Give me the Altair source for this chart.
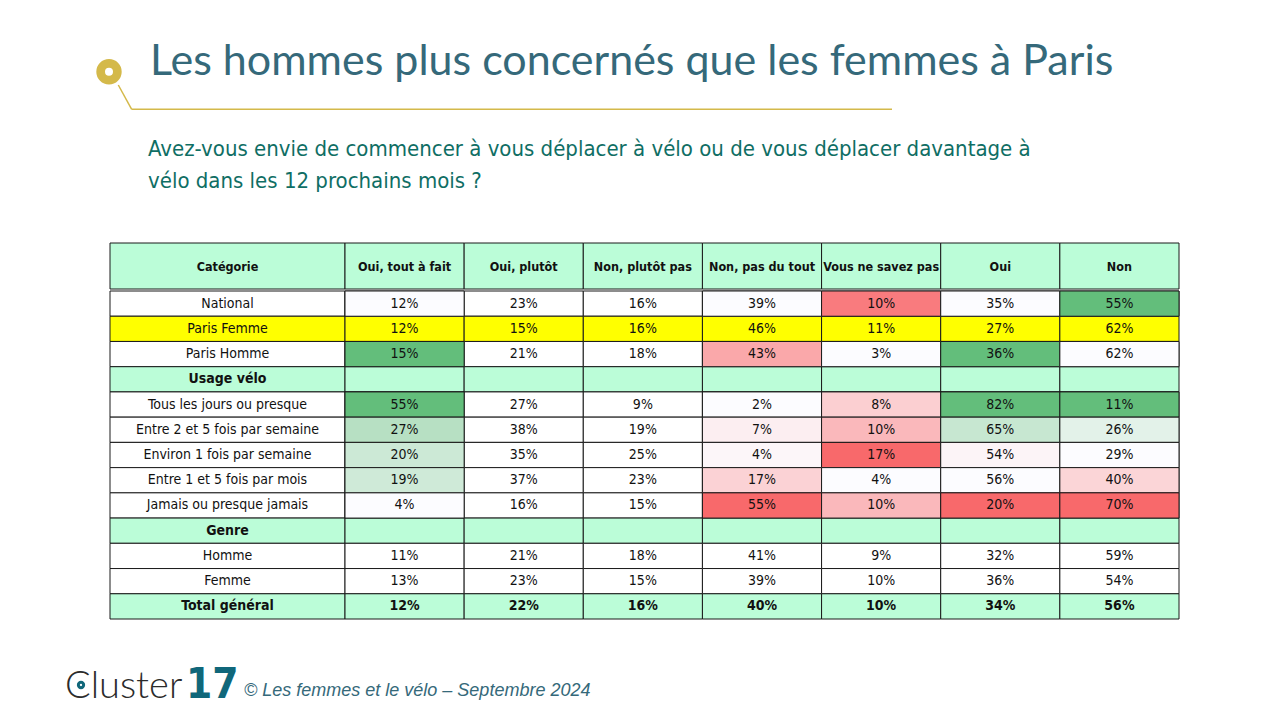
import numpy as np
import pandas as pd
import altair as alt

# ---------------- data ----------------
title_text = "Les hommes plus concernés que les femmes à Paris"
subtitle_lines = [
    "Avez-vous envie de commencer à vous déplacer à vélo ou de vous déplacer davantage à",
    "vélo dans les 12 prochains mois ?",
]
footer_text = "© Les femmes et le vélo – Septembre 2024"
logo_word = "Cluster"
logo_num = "17"

first_header = "Catégorie"
columns = ["Oui, tout à fait", "Oui, plutôt", "Non, plutôt pas", "Non, pas du tout",
           "Vous ne savez pas", "Oui", "Non"]

row_labels = ["National", "Paris Femme", "Paris Homme", "Usage vélo",
              "Tous les jours ou presque", "Entre 2 et 5 fois par semaine",
              "Environ 1 fois par semaine", "Entre 1 et 5 fois par mois",
              "Jamais ou presque jamais", "Genre", "Homme", "Femme", "Total général"]
row_kind = ["data", "highlight", "data", "section", "data", "data", "data", "data",
            "data", "section", "data", "data", "total"]

national = [12, 23, 16, 39, 10, 35, 55]
paris_femme = [12, 15, 16, 46, 11, 27, 62]
paris_homme = [15, 21, 18, 43, 3, 36, 62]
tous_les_jours = [55, 27, 9, 2, 8, 82, 11]
entre_2_5_semaine = [27, 38, 19, 7, 10, 65, 26]
environ_1_semaine = [20, 35, 25, 4, 17, 54, 29]
entre_1_5_mois = [19, 37, 23, 17, 4, 56, 40]
jamais = [4, 16, 15, 55, 10, 20, 70]
homme = [11, 21, 18, 41, 9, 32, 59]
femme = [13, 23, 15, 39, 10, 36, 54]
total = [12, 22, 16, 40, 10, 34, 56]

series = [national, paris_femme, paris_homme, None, tous_les_jours, entre_2_5_semaine,
          environ_1_semaine, entre_1_5_mois, jamais, None, homme, femme, total]

# conditional-format groups (rows) and per-column rule
format_blocks = [[0, 1, 2], [4, 5, 6, 7, 8]]
col_rules = ["up", None, None, "down", "down", "div", "divrev"]

# ---------------- styling ----------------
TABLE_FONT = "Liberation Sans Narrow, Arial Narrow, DejaVu Sans Condensed, sans-serif"
BAND = "#bbfdd8"
YELLOW = "#ffff00"
GRID = "#1a1a1a"
TXT = "#111111"
RED, MID, GREEN = "#f8696b", "#fcfcff", "#63be7b"

W_FIRST, W_REST, H_HEAD, H_BODY = 235, 834, 46, 328
PAGE_W = 1255
LEFT = 101
TOP_H = 234
FOOT_H = 86


def tone(v, vals, rule):
    lo, hi = min(vals), max(vals)
    if rule == "up":
        return (v - lo) / (hi - lo) if hi > lo else 0.0
    if rule == "down":
        return -(v - lo) / (hi - lo) if hi > lo else 0.0
    med = float(np.median(vals))
    if v >= med:
        t = (v - med) / (hi - med) if hi > med else 0.0
    else:
        t = -(med - v) / (med - lo)
    return t if rule == "div" else -t


block_of = {}
for b in format_blocks:
    for r in b:
        block_of[r] = b

first_rows, rest_rows = [], []
style_map = {"data": "plain", "highlight": "yellow", "section": "band", "total": "band"}
for r, lab in enumerate(row_labels):
    kind = row_kind[r]
    style = style_map[kind]
    first_rows.append(dict(r=r, label=lab, style=style, bold=kind in ("section", "total")))
    vals = series[r]
    for c, col in enumerate(columns):
        txt = "" if vals is None else f"{vals[c]}%"
        t, toned = 0.0, False
        rule = col_rules[c]
        if vals is not None and rule is not None and r in block_of and kind != "highlight":
            colvals = [series[rr][c] for rr in block_of[r]]
            t, toned = tone(vals[c], colvals, rule), True
        rest_rows.append(dict(r=r, c=c, text=txt, style=style, tone=t, toned=toned,
                              bold=kind == "total"))

df_first = pd.DataFrame(first_rows)
df_rest = pd.DataFrame(rest_rows)
df_head = pd.DataFrame({"c": list(range(len(columns))), "name": columns})
df_head_first = pd.DataFrame({"name": [first_header]})

style_fill = alt.Fill("style:N", legend=None,
                      scale=alt.Scale(domain=["plain", "yellow", "band"],
                                      range=["#ffffff", YELLOW, BAND]))
ROW_Y = alt.Y("r:O", axis=None, scale=alt.Scale(paddingInner=0, paddingOuter=0))
COL_X = alt.X("c:O", axis=None, scale=alt.Scale(paddingInner=0, paddingOuter=0))

# ---- header ----
hb = alt.Chart(df_head_first)
header_first = alt.layer(
    hb.mark_rect(fill=BAND, stroke=GRID, strokeWidth=1).encode(
        x=alt.value(0), x2=alt.value(W_FIRST), y=alt.value(0), y2=alt.value(H_HEAD)),
    hb.mark_text(font=TABLE_FONT, fontSize=12.5, fontWeight="bold", color=TXT).encode(
        x=alt.value(W_FIRST / 2), y=alt.value(H_HEAD / 2 + 1), text="name:N"),
).properties(width=W_FIRST, height=H_HEAD)

hr = alt.Chart(df_head)
header_rest = alt.layer(
    hr.mark_rect(fill=BAND, stroke=GRID, strokeWidth=1).encode(
        x=COL_X, y=alt.value(0), y2=alt.value(H_HEAD)),
    hr.mark_text(font=TABLE_FONT, fontSize=12.5, fontWeight="bold", color=TXT).encode(
        x=COL_X, y=alt.value(H_HEAD / 2 + 1), text="name:N"),
).properties(width=W_REST, height=H_HEAD)

# ---- body ----
bf = alt.Chart(df_first)
body_first = alt.layer(
    bf.mark_rect(stroke=GRID, strokeWidth=1).encode(
        x=alt.value(0), x2=alt.value(W_FIRST), y=ROW_Y, fill=style_fill),
    bf.mark_text(font=TABLE_FONT, fontSize=14, color=TXT).encode(
        x=alt.value(W_FIRST / 2), y=ROW_Y, text="label:N").transform_filter("!datum.bold"),
    bf.mark_text(font=TABLE_FONT, fontSize=14, fontWeight="bold", color=TXT).encode(
        x=alt.value(W_FIRST / 2), y=ROW_Y, text="label:N").transform_filter("datum.bold"),
).properties(width=W_FIRST, height=H_BODY)

br = alt.Chart(df_rest)
body_rest = alt.layer(
    br.mark_rect(stroke=GRID, strokeWidth=1).encode(x=COL_X, y=ROW_Y, fill=style_fill),
    br.mark_rect(stroke=GRID, strokeWidth=1).encode(
        x=COL_X, y=ROW_Y,
        fill=alt.Fill("tone:Q", legend=None,
                      scale=alt.Scale(domain=[-1, 0, 1], range=[RED, MID, GREEN],
                                      interpolate="rgb"))
    ).transform_filter("datum.toned"),
    br.mark_text(font=TABLE_FONT, fontSize=14, color=TXT).encode(
        x=COL_X, y=ROW_Y, text="text:N").transform_filter("!datum.bold"),
    br.mark_text(font=TABLE_FONT, fontSize=14, fontWeight="bold", color=TXT).encode(
        x=COL_X, y=ROW_Y, text="text:N").transform_filter("datum.bold"),
).resolve_scale(fill="independent").properties(width=W_REST, height=H_BODY)

table = alt.vconcat(
    alt.hconcat(header_first, header_rest, spacing=0, bounds="flush"),
    alt.hconcat(body_first, body_rest, spacing=0, bounds="flush"),
    spacing=0,
)

spacer = alt.Chart(pd.DataFrame({"s": [""]})).mark_text().encode(
    text="s:N").properties(width=LEFT, height=H_HEAD + H_BODY)

# ---- top: title, subtitle, decoration ----
GOLD = "#d4b94a"
TITLE_C = "#35697a"
SUB_C = "#0f6e64"
deco = pd.DataFrame({"k": [0]})
top = alt.layer(
    alt.Chart(deco).mark_rule(color=GOLD, strokeWidth=1.5).encode(
        x=alt.value(110.3), y=alt.value(77), x2=alt.value(123.7), y2=alt.value(101.3)),
    alt.Chart(deco).mark_rule(color=GOLD, strokeWidth=1.5).encode(
        x=alt.value(123.7), y=alt.value(101.3), x2=alt.value(884), y2=alt.value(101.3)),
    alt.Chart(deco).mark_point(shape="circle", filled=False, stroke=GOLD, strokeWidth=8.7,
                               size=279, opacity=1).encode(
        x=alt.value(101), y=alt.value(63.7)),
    alt.Chart(pd.DataFrame({"t": [title_text]})).mark_text(
        font="Lato", fontSize=43, color=TITLE_C, align="left", baseline="alphabetic").encode(
        x=alt.value(142), y=alt.value(67), text="t:N"),
    alt.Chart(pd.DataFrame({"t": [subtitle_lines[0]]})).mark_text(
        font=TABLE_FONT, fontSize=22, color=SUB_C, align="left", baseline="alphabetic").encode(
        x=alt.value(140), y=alt.value(148), text="t:N"),
    alt.Chart(pd.DataFrame({"t": [subtitle_lines[1]]})).mark_text(
        font=TABLE_FONT, fontSize=22, color=SUB_C, align="left", baseline="alphabetic").encode(
        x=alt.value(140), y=alt.value(180), text="t:N"),
).properties(width=PAGE_W, height=TOP_H)

# ---- footer ----
TEAL = "#10677a"
footer = alt.layer(
    alt.Chart(pd.DataFrame({"t": [logo_word]})).mark_text(
        font="Lato", fontWeight=300, fontSize=38, color="#2b2b2b", align="left",
        baseline="alphabetic").encode(x=alt.value(57), y=alt.value(78), text="t:N"),
    alt.Chart(deco).mark_point(shape="circle", filled=False, stroke=TEAL, strokeWidth=3,
                               size=28, opacity=1).encode(
        x=alt.value(73), y=alt.value(65)),
    alt.Chart(pd.DataFrame({"t": [logo_num]})).mark_text(
        font="Liberation Sans Narrow, Arial Narrow, DejaVu Sans Condensed, sans-serif",
        fontWeight="bold", fontSize=42, color=TEAL, align="left",
        baseline="alphabetic").encode(x=alt.value(178), y=alt.value(78), text="t:N"),
    alt.Chart(pd.DataFrame({"t": [footer_text]})).mark_text(
        font="Liberation Sans, Arial, sans-serif", fontStyle="italic", fontSize=18,
        color=TITLE_C, align="left", baseline="alphabetic").encode(
        x=alt.value(236), y=alt.value(76), text="t:N"),
).properties(width=PAGE_W, height=FOOT_H)

chart = alt.vconcat(
    top,
    alt.hconcat(spacer, table, spacing=0),
    footer,
    spacing=0,
).properties(padding=0).configure_view(stroke=None)

chart.save("out.html", embed_options={"renderer": "svg", "actions": False})
